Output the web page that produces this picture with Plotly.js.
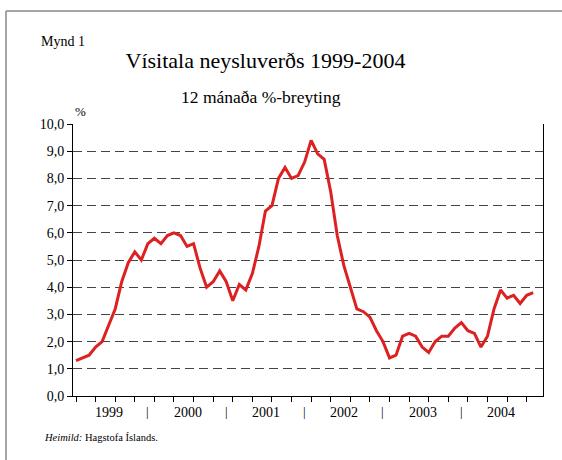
<!DOCTYPE html>
<html>
<head>
<meta charset="utf-8">
<script src="https://cdn.plot.ly/plotly-3.0.1.min.js"></script>
<style>html,body{margin:0;padding:0;background:#fff;}#chart{width:562px;height:460px;}</style>
</head>
<body>
<div id="chart"></div>
<script>
// 12-month % change of the consumer price index, monthly
const v1999 = [1.3, 1.4, 1.5, 1.8, 2.0, 2.6, 3.2, 4.2, 4.9, 5.3, 5.0, 5.6];
const v2000 = [5.8, 5.6, 5.9, 6.0, 5.9, 5.5, 5.6, 4.7, 4.0, 4.2, 4.6, 4.2];
const v2001 = [3.5, 4.1, 3.9, 4.5, 5.5, 6.8, 7.0, 8.0, 8.4, 8.0, 8.1, 8.6];
const v2002 = [9.4, 8.9, 8.7, 7.5, 5.9, 4.8, 4.0, 3.2, 3.1, 2.9, 2.4, 2.0];
const v2003 = [1.4, 1.5, 2.2, 2.3, 2.2, 1.8, 1.6, 2.0, 2.2, 2.2, 2.5, 2.7];
const v2004 = [2.4, 2.3, 1.8, 2.2, 3.2, 3.9, 3.6, 3.7, 3.4, 3.7, 3.8];
const years = ['1999', '2000', '2001', '2002', '2003', '2004'];
const yTickVals = [0,1,2,3,4,5,6,7,8,9,10];
const yTickText = ['0,0','1,0','2,0','3,0','4,0','5,0','6,0','7,0','8,0','9,0','10,0'];

const months = [];
years.forEach(y => { for (let m = 1; m <= 12; m++) months.push(y + '-' + String(m).padStart(2, '0')); });
const values = [].concat(v1999, v2000, v2001, v2002, v2003, v2004);

const L = 73, R = 543, T = 124, B = 396, W = 562, H = 460;
const px = x => (x - L) / (R - L);
const py = y => (B - y) / (B - T);
const serif = "'Liberation Serif', 'Times New Roman', serif";

const annotations = [];
years.forEach((y, k) => {
  annotations.push({xref: 'x', yref: 'paper', x: 5.1 + 12 * k, y: py(412), text: y, showarrow: false,
    xanchor: 'center', yanchor: 'middle', font: {family: serif, size: 14, color: '#000'}});
  if (k < years.length - 1) annotations.push({xref: 'x', yref: 'paper', x: 11 + 12 * k, y: py(411), text: '|', showarrow: false,
    xanchor: 'center', yanchor: 'middle', font: {family: serif, size: 13, color: '#000'}});
});
annotations.push({xref: 'paper', yref: 'paper', x: px(39), y: py(42), text: 'Mynd 1', showarrow: false,
  xanchor: 'left', yanchor: 'middle', font: {family: serif, size: 14, color: '#000'}});
annotations.push({xref: 'paper', yref: 'paper', x: px(260.5), y: py(97), text: '12 mánaða %-breyting', showarrow: false,
  xanchor: 'center', yanchor: 'middle', font: {family: serif, size: 17.5, color: '#000'}});
annotations.push({xref: 'paper', yref: 'paper', x: px(80), y: py(112), text: '%', showarrow: false,
  xanchor: 'center', yanchor: 'middle', font: {family: serif, size: 13, color: '#000'}});
annotations.push({xref: 'paper', yref: 'paper', x: px(42), y: py(437), text: '<i>Heimild:</i> Hagstofa Íslands.', showarrow: false,
  xanchor: 'left', yanchor: 'middle', font: {family: serif, size: 10.5, color: '#000'}});

const shapes = [
  {type: 'line', xref: 'paper', yref: 'paper', x0: px(6), x1: px(600), y0: py(11), y1: py(11), line: {color: '#888', width: 1.5}},
  {type: 'line', xref: 'paper', yref: 'paper', x0: px(6), x1: px(6), y0: py(11), y1: py(470), line: {color: '#888', width: 1.5}}
];

const trace = {
  x: months.slice(0, values.length), y: values, type: 'scatter', mode: 'lines',
  line: {color: '#dd2121', width: 3}, hoverinfo: 'skip'
};

const layout = {
  width: W, height: H,
  margin: {l: L, r: W - R, t: T, b: H - B, pad: 0},
  paper_bgcolor: '#fff', plot_bgcolor: '#fff',
  showlegend: false,
  font: {family: serif, color: '#000'},
  title: {text: 'Vísitala neysluverðs 1999-2004', x: 265.5 / W, y: 1 - 60 / H, xref: 'container', yref: 'container',
    xanchor: 'center', yanchor: 'middle', font: {family: serif, size: 22, color: '#000'}},
  xaxis: {type: 'category', categoryorder: 'array', categoryarray: months,
    range: [-0.46, 71.5], showticklabels: false, ticks: 'outside', ticklen: 5, tickwidth: 1, tickcolor: '#000',
    showgrid: false, zeroline: false, showline: true, linecolor: '#000', linewidth: 1, fixedrange: true},
  yaxis: {range: [0, 10], tickvals: yTickVals, ticktext: yTickText, ticks: 'outside', ticklen: 5, tickwidth: 1, tickcolor: '#000',
    tickfont: {family: serif, size: 14, color: '#000'}, showline: true, mirror: true, linecolor: '#000', linewidth: 1,
    showgrid: true, gridcolor: '#444', gridwidth: 1, griddash: '9px,5px', zeroline: false, fixedrange: true},
  annotations: annotations, shapes: shapes
};

Plotly.newPlot('chart', [trace], layout, {staticPlot: true, displayModeBar: false});
</script>
</body>
</html>
